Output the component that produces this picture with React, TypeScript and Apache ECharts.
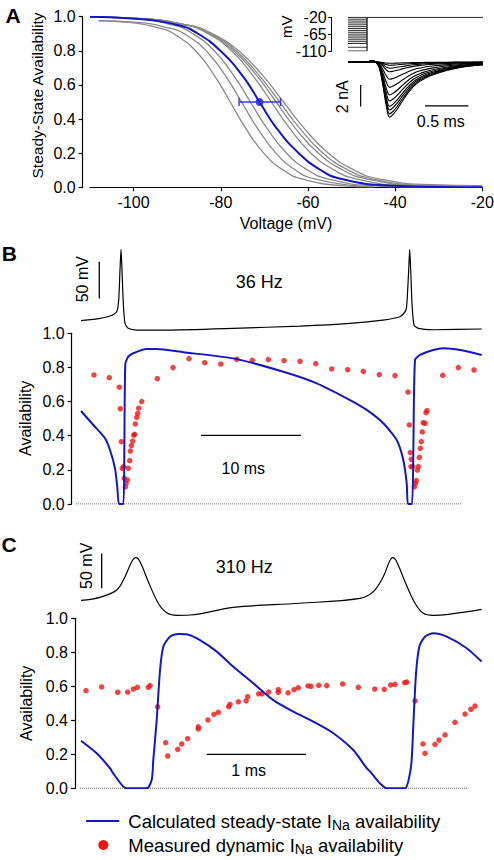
import React, { useEffect, useRef } from "react";
import * as echarts from "echarts";

const FONT = '"Liberation Sans", Arial, Helvetica, sans-serif';
const BLUE = "#1616c4";
const GRAY = "#8a8a8a";
const RED = "#f01414";
const BLACK = "#000000";

// ---------- Panel A: steady-state availability vs voltage ----------
const aXTicks = [-100, -80, -60, -40, -20];
const aMeanFit: number[][] = [[-110, 1.0], [-100.5, 0.99], [-89.7, 0.95], [-85.2, 0.9], [-80.1, 0.8], [-74.9, 0.65], [-71.1, 0.5], [-67.3, 0.35], [-62.1, 0.2], [-57.0, 0.1], [-52.5, 0.05], [-41.7, 0.01], [-30, 0.002], [-20, 0.0]];
const aCell1: number[][] = [[-108, 0.976], [-102.9, 0.97], [-93.8, 0.931], [-89.7, 0.882], [-85.2, 0.784], [-81.0, 0.637], [-77.6, 0.49], [-74.2, 0.343], [-70.0, 0.196], [-65.5, 0.098], [-61.4, 0.049], [-52.3, 0.0098], [-45, 0.002]];
const aCell2: number[][] = [[-108, 0.977], [-100.7, 0.97], [-91.5, 0.931], [-87.3, 0.882], [-82.8, 0.784], [-78.5, 0.637], [-75.0, 0.49], [-71.5, 0.343], [-67.2, 0.196], [-62.7, 0.098], [-58.5, 0.049], [-49.3, 0.0098], [-45, 0.004]];
const aCell3: number[][] = [[-110, 0.997], [-100.8, 0.99], [-90.9, 0.95], [-86.4, 0.9], [-81.5, 0.8], [-76.9, 0.65], [-73.2, 0.5], [-69.5, 0.35], [-64.9, 0.2], [-60.0, 0.1], [-55.5, 0.05], [-45.6, 0.01], [-35, 0.002], [-20, 0.0]];
const aCell4: number[][] = [[-110, 0.998], [-98.7, 0.99], [-87.8, 0.95], [-82.9, 0.9], [-77.5, 0.8], [-72.5, 0.65], [-68.4, 0.5], [-64.3, 0.35], [-59.3, 0.2], [-53.9, 0.1], [-49.0, 0.05], [-38.1, 0.01], [-20, 0.002]];
const aCell5: number[][] = [[-108, 0.997], [-99.5, 0.99], [-87.9, 0.95], [-82.7, 0.9], [-77.0, 0.8], [-71.6, 0.65], [-67.3, 0.5], [-63.0, 0.35], [-57.6, 0.2], [-51.9, 0.1], [-46.7, 0.05], [-35.1, 0.01], [-20, 0.003]];
const aCell6: number[][] = [[-110, 0.997], [-99.6, 0.99], [-87.7, 0.95], [-82.3, 0.9], [-76.5, 0.8], [-71.0, 0.65], [-66.5, 0.5], [-62.0, 0.35], [-56.5, 0.2], [-50.7, 0.1], [-45.3, 0.05], [-33.4, 0.012], [-20, 0.006]];
const aCell7: number[][] = [[-108, 0.996], [-99.6, 0.99], [-87.4, 0.95], [-81.9, 0.9], [-75.9, 0.8], [-70.2, 0.65], [-65.6, 0.5], [-61.0, 0.35], [-55.3, 0.2], [-49.3, 0.1], [-43.8, 0.05], [-31.6, 0.015], [-20, 0.01]];
const aCells = [aCell1, aCell2, aCell3, aCell4, aCell5, aCell6, aCell7];
const aHalfV = -71.1;
const aHalfRange = [-75.8, -66.3];

// Inset: voltage protocol (mV) and currents (nA)
const protocolLevels = [-110, -100, -90, -85, -80, -75, -70, -65, -60, -55, -50, -45, -40, -35, -30, -25];
const protocolTest = -20;
const protocolStep = 0.22;
const protocolEnd = 1.557;
const protocolTicks = [-110, -65, -20];
const currentTimes = [0, 0.22, 0.26, 0.29, 0.32, 0.36, 0.4, 0.44, 0.48, 0.52, 0.57, 0.64, 0.75, 0.85, 0.95, 1.15, 1.33, 1.557];
const currentShape = [0, 0, 0.02, 0.02, 0, -0.1, -0.4, -0.78, -1.0, -0.95, -0.85, -0.68, -0.45, -0.33, -0.25, -0.15, -0.09, -0.05];
const currentPeaks = [5.1, 4.8, 4.45, 4.1, 3.6, 3.05, 2.35, 1.6, 0.9, 0.58, 0.3, 0.12];

// ---------- Panel B: 36 Hz ----------
const bVoltage: number[][] = [[0, -62.3], [1.9, -59.1], [2.9, -55.9], [3.57, -50.1], [3.77, -34.1], [3.9, 6.7], [4.0, 35], [4.1, 6.7], [4.23, -38.6], [4.4, -65.9], [4.73, -72.7], [5.57, -75], [8.57, -75], [15.2, -72.7], [21.9, -69.6], [26.9, -65.9], [30.2, -61.4], [31.9, -56.9], [32.5, -47.8], [32.63, -29.6], [32.77, 6.7], [32.87, 35], [32.97, 6.7], [33.1, -38.6], [33.3, -68.2], [33.73, -72.7], [35.23, -74.6], [40.07, -73.6]];
const bSteady: number[][] = [[0, 0.545], [1.23, 0.463], [2.4, 0.385], [2.9, 0.316], [3.4, 0.209], [3.63, 0.1], [3.8, 0.0], [4.23, 0.0], [4.33, 0.297], [4.43, 0.82], [4.73, 0.863], [5.23, 0.883], [6.57, 0.908], [7.57, 0.908], [10.23, 0.889], [15.23, 0.853], [20.23, 0.775], [23.57, 0.707], [26.9, 0.609], [28.57, 0.551], [30.23, 0.473], [31.57, 0.375], [32.23, 0.258], [32.57, 0.121], [32.7, 0.0], [33.1, 0.0], [33.23, 0.297], [33.4, 0.844], [33.9, 0.873], [35.23, 0.902], [36.23, 0.912], [37.9, 0.902], [40.07, 0.873]];
const bMeasured: number[][] = [[1.3, 0.756], [2.83, 0.74], [3.83, 0.684], [3.93, 0.558], [4.03, 0.365], [4.13, 0.209], [4.27, 0.219], [4.33, 0.15], [4.43, 0.1], [4.5, 0.121], [4.63, 0.141], [4.73, 0.209], [4.87, 0.254], [4.93, 0.31], [5.03, 0.342], [5.17, 0.369], [5.27, 0.404], [5.37, 0.408], [5.43, 0.469], [5.57, 0.508], [5.67, 0.531], [5.77, 0.561], [6.07, 0.6], [7.63, 0.734], [9.2, 0.799], [10.8, 0.851], [12.37, 0.828], [13.97, 0.82], [15.57, 0.848], [17.13, 0.842], [18.73, 0.846], [20.3, 0.84], [21.9, 0.836], [23.47, 0.822], [25.07, 0.791], [26.67, 0.787], [28.23, 0.777], [29.83, 0.758], [31.4, 0.752], [32.7, 0.656], [32.83, 0.463], [32.93, 0.301], [33.03, 0.262], [33.0, 0.219], [33.17, 0.219], [33.33, 0.1], [33.43, 0.121], [33.53, 0.137], [33.63, 0.199], [33.73, 0.219], [33.83, 0.273], [33.93, 0.326], [34.03, 0.365], [34.13, 0.422], [34.23, 0.476], [34.4, 0.473], [34.5, 0.535], [34.6, 0.547], [36.17, 0.754], [37.73, 0.799], [39.3, 0.785]];

// ---------- Panel C: 310 Hz ----------
const cVoltage: number[][] = [[0, -54.2], [0.191, -50], [0.36, -39.9], [0.443, -21.4], [0.511, -0.6], [0.551, 5], [0.594, -0.6], [0.678, -28.3], [0.778, -58.3], [0.863, -71.4], [0.967, -75], [1.098, -74.6], [1.534, -63.9], [2.205, -58.3], [2.81, -51.4], [2.944, -42.2], [3.044, -21.4], [3.105, -0.6], [3.139, 5], [3.179, -0.6], [3.263, -28.3], [3.364, -58.3], [3.447, -72.2], [3.548, -75], [3.699, -73.6], [4.035, -66.7]];
const cSteady: number[][] = [[0, 0.28], [0.158, 0.206], [0.292, 0.118], [0.325, 0.088], [0.426, 0.01], [0.47, 0], [0.662, 0], [0.712, 0.05], [0.728, 0.167], [0.762, 0.4], [0.796, 0.696], [0.829, 0.833], [0.896, 0.892], [0.98, 0.908], [1.064, 0.906], [1.198, 0.872], [1.367, 0.804], [1.534, 0.715], [1.735, 0.618], [1.937, 0.519], [2.138, 0.451], [2.339, 0.392], [2.541, 0.324], [2.742, 0.225], [2.877, 0.118], [2.91, 0.1], [3.011, 0.029], [3.079, 0], [3.263, 0], [3.306, 0.068], [3.33, 0.167], [3.346, 0.362], [3.374, 0.676], [3.407, 0.833], [3.464, 0.892], [3.548, 0.912], [3.683, 0.892], [3.884, 0.824], [4.035, 0.745]];
const cMeasured: number[][] = [[0.05, 0.574], [0.208, 0.596], [0.37, 0.565], [0.47, 0.566], [0.527, 0.584], [0.567, 0.594], [0.678, 0.594], [0.695, 0.604], [0.772, 0.48], [0.853, 0.268], [0.873, 0.19], [0.974, 0.229], [1.014, 0.261], [1.074, 0.292], [1.181, 0.349], [1.181, 0.362], [1.279, 0.402], [1.339, 0.435], [1.383, 0.447], [1.487, 0.48], [1.5, 0.494], [1.584, 0.509], [1.662, 0.514], [1.679, 0.539], [1.789, 0.556], [1.823, 0.556], [1.89, 0.566], [1.987, 0.58], [1.987, 0.565], [2.085, 0.562], [2.145, 0.58], [2.188, 0.592], [2.286, 0.602], [2.316, 0.6], [2.394, 0.606], [2.474, 0.604], [2.635, 0.614], [2.793, 0.594], [2.958, 0.584], [3.054, 0.582], [3.119, 0.608], [3.162, 0.612], [3.26, 0.621], [3.28, 0.625], [3.364, 0.514], [3.444, 0.261], [3.464, 0.206], [3.565, 0.259], [3.605, 0.284], [3.666, 0.314], [3.766, 0.388], [3.867, 0.437], [3.927, 0.465], [3.968, 0.484]];

const legendLine = ["Calculated steady-state I", "Na", " availability"];
const legendDot = ["Measured dynamic I", "Na", " availability"];

function lineSeries(data: number[][], axis: number, color: string, width: number, extra: any = {}) {
  return {
    type: "line",
    xAxisIndex: axis,
    yAxisIndex: axis,
    data,
    symbol: "none",
    showSymbol: false,
    silent: true,
    lineStyle: { color, width },
    ...extra,
  };
}

function hiddenAxis(grid: number, min: number, max: number) {
  return { type: "value", gridIndex: grid, min, max, show: false, splitLine: { show: false } };
}

const axisCommon = {
  axisLine: { show: true, onZero: false, lineStyle: { color: BLACK, width: 1.2 } },
  axisTick: { show: true, length: 4, lineStyle: { color: BLACK, width: 1.2 } },
  splitLine: { show: false },
};

function availabilityAxis(grid: number, offset: number) {
  return {
    type: "value",
    gridIndex: grid,
    min: 0,
    max: 1,
    interval: 0.2,
    offset,
    ...axisCommon,
    axisLabel: { color: BLACK, fontSize: 16, fontFamily: FONT, margin: 7, formatter: (v: number) => v.toFixed(1) },
  };
}

function txt(text: string, x: number, y: number, size: number, opts: any = {}) {
  return {
    type: "text",
    x,
    y,
    rotation: opts.rotate ? Math.PI / 2 : 0,
    silent: true,
    style: {
      text,
      x: 0,
      y: 0,
      fill: BLACK,
      font: `${opts.bold ? "bold " : ""}${size}px ${FONT}`,
      textAlign: opts.align || "center",
      textVerticalAlign: "middle",
    },
  };
}

function buildOption() {
  const series: any[] = [];
  // Panel A
  aCells.forEach((c) => series.push(lineSeries(c, 0, GRAY, 1.3, { smooth: 0.5 })));
  series.push(lineSeries(aMeanFit, 0, BLUE, 2, { smooth: 0.5 }));
  series.push(lineSeries([[aHalfRange[0], 0.5], [aHalfRange[1], 0.5]], 0, "#3a3ae0", 1.4));
  series.push(lineSeries([[aHalfRange[0], 0.476], [aHalfRange[0], 0.524]], 0, "#3a3ae0", 1.4));
  series.push(lineSeries([[aHalfRange[1], 0.476], [aHalfRange[1], 0.524]], 0, "#3a3ae0", 1.4));
  series.push({ type: "scatter", xAxisIndex: 0, yAxisIndex: 0, data: [[aHalfV, 0.5]], symbolSize: 8, silent: true, itemStyle: { color: BLUE } });
  // Inset protocol
  protocolLevels.forEach((v) => series.push(lineSeries([[0, v], [protocolStep, v]], 1, BLACK, 0.8)));
  series.push(lineSeries([[0, protocolTest], [protocolEnd, protocolTest]], 1, BLACK, 1.1));
  series.push(lineSeries([[protocolStep, protocolLevels[0]], [protocolStep, protocolTest]], 1, BLACK, 1.1));
  // Inset currents
  currentPeaks.forEach((p) =>
    series.push(lineSeries(currentTimes.map((t, i) => [t, currentShape[i] * p]), 2, BLACK, 1.1, { smooth: 0.4 }))
  );
  series.push(lineSeries([[0.146, -4.13], [0.146, -2.13]], 2, BLACK, 1.2));
  series.push(lineSeries([[0.888, -4.07], [1.388, -4.07]], 2, BLACK, 1.2));
  // Panel B
  series.push(lineSeries(bVoltage, 3, BLACK, 1.2, { smooth: 0.2 }));
  series.push(lineSeries([[1.83, -32], [1.83, 18]], 3, BLACK, 1.3));
  series.push(lineSeries([[-0.5, 0], [38.07, 0]], 4, "#444", 1, { lineStyle: { color: "#444", width: 1, type: "dotted" } }));
  series.push(lineSeries(bSteady, 4, BLUE, 2, { smooth: 0.2 }));
  series.push(lineSeries([[12, 0.402], [22, 0.402]], 4, BLACK, 1.3));
  series.push({ type: "scatter", xAxisIndex: 4, yAxisIndex: 4, data: bMeasured, symbolSize: 5.5, silent: true, itemStyle: { color: RED } });
  // Panel C
  series.push(lineSeries(cVoltage, 5, BLACK, 1.2, { smooth: 0.35 }));
  series.push(lineSeries([[0.208, -37.5], [0.208, 12.5]], 5, BLACK, 1.3));
  series.push(lineSeries([[-0.0101, 0], [3.9, 0]], 6, "#444", 1, { lineStyle: { color: "#444", width: 1, type: "dotted" } }));
  series.push(lineSeries(cSteady, 6, BLUE, 2, { smooth: 0.25 }));
  series.push(lineSeries([[1.266, 0.2], [2.266, 0.2]], 6, BLACK, 1.3));
  series.push({ type: "scatter", xAxisIndex: 6, yAxisIndex: 6, data: cMeasured, symbolSize: 5.5, silent: true, itemStyle: { color: RED } });

  const rich = {
    a: { fontSize: 18.5, fontFamily: FONT, lineHeight: 22, fill: BLACK, color: BLACK },
    s: { fontSize: 14, fontFamily: FONT, lineHeight: 14, verticalAlign: "bottom", fill: BLACK, color: BLACK },
  };

  const graphic: any[] = [
    txt("A", 13.2, 15, 21, { bold: true }),
    txt("Steady-State Availability", 37, 95.5, 15.5, { rotate: true }),
    txt("Voltage (mV)", 286, 223.5, 16),
    txt("mV", 286, 26.7, 15, { rotate: true }),
    txt("2 nA", 342.5, 96.7, 16, { rotate: true }),
    txt("0.5 ms", 440.8, 121, 16),
    txt("B", 9.4, 253.5, 21, { bold: true }),
    txt("50 mV", 82.7, 279.2, 16, { rotate: true }),
    txt("36 Hz", 259.2, 281.7, 18),
    txt("Availability", 25.8, 418.3, 16, { rotate: true }),
    txt("10 ms", 243.3, 468.3, 16),
    txt("C", 9, 544.5, 21, { bold: true }),
    txt("50 mV", 86.3, 565.8, 16, { rotate: true }),
    txt("310 Hz", 244.3, 566.7, 18),
    txt("Availability", 26.7, 703.3, 16, { rotate: true }),
    txt("1 ms", 248.7, 770.8, 16),
    { type: "line", silent: true, shape: { x1: 86, y1: 821, x2: 119.3, y2: 821 }, style: { stroke: BLUE, lineWidth: 2 } },
    { type: "circle", silent: true, shape: { cx: 103.3, cy: 845, r: 5 }, style: { fill: RED } },
    {
      type: "text", x: 128.3, y: 821, silent: true,
      style: { text: `{a|${legendLine[0]}}{s|${legendLine[1]}}{a|${legendLine[2]}}`, rich, textAlign: "left", textVerticalAlign: "middle", fill: BLACK },
    },
    {
      type: "text", x: 128.3, y: 845, silent: true,
      style: { text: `{a|${legendDot[0]}}{s|${legendDot[1]}}{a|${legendDot[2]}}`, rich, textAlign: "left", textVerticalAlign: "middle", fill: BLACK },
    },
  ];

  return {
    animation: false,
    backgroundColor: "#ffffff",
    textStyle: { fontFamily: FONT },
    grid: [
      { left: 90, top: 16.7, width: 392.3, height: 170.6, containLabel: false, outerBoundsMode: "none" },
      { left: 348, top: 17.3, width: 135, height: 33.7, containLabel: false, outerBoundsMode: "none" },
      { left: 348, top: 56.6, width: 135, height: 64.8, containLabel: false, outerBoundsMode: "none" },
      { left: 76, top: 245.6, width: 406, height: 88.1, containLabel: false, outerBoundsMode: "none" },
      { left: 76, top: 333.3, width: 406, height: 170.7, containLabel: false, outerBoundsMode: "none" },
      { left: 80, top: 554.1, width: 402, height: 64.8, containLabel: false, outerBoundsMode: "none" },
      { left: 80, top: 618.3, width: 402, height: 170, containLabel: false, outerBoundsMode: "none" },
    ],
    xAxis: [
      {
        type: "value", gridIndex: 0, min: -110, max: -20,
        ...axisCommon,
        axisTick: { ...axisCommon.axisTick, customValues: aXTicks },
        axisLabel: { color: BLACK, fontSize: 16, fontFamily: FONT, margin: 7, customValues: aXTicks },
      },
      hiddenAxis(1, 0, protocolEnd),
      hiddenAxis(2, 0, protocolEnd),
      hiddenAxis(3, -0.5, 40.1),
      hiddenAxis(4, -0.5, 40.1),
      hiddenAxis(5, -0.0101, 4.0383),
      hiddenAxis(6, -0.0101, 4.0383),
    ],
    yAxis: [
      availabilityAxis(0, 7.3),
      {
        type: "value", gridIndex: 1, min: -110, max: -20, offset: 16.3,
        ...axisCommon,
        axisLine: { show: true, onZero: false, lineStyle: { color: BLACK, width: 1 } },
        axisTick: { show: true, length: 3.5, lineStyle: { color: BLACK, width: 1 }, customValues: protocolTicks },
        axisLabel: { color: BLACK, fontSize: 16, fontFamily: FONT, margin: 5, customValues: protocolTicks },
      },
      hiddenAxis(2, -5.5, 0.5),
      hiddenAxis(3, -80, 40),
      availabilityAxis(4, 4.3),
      hiddenAxis(5, -80, 10),
      availabilityAxis(6, 5),
    ],
    series,
    graphic,
  };
}

export default function App() {
  const ref = useRef<HTMLDivElement>(null);
  useEffect(() => {
    if (!ref.current) return;
    const chart = echarts.init(ref.current, undefined, { renderer: "svg" });
    chart.setOption(buildOption() as any);
    return () => chart.dispose();
  }, []);
  return (
    <div
      ref={ref}
      style={{ position: "fixed", left: 0, top: 0, width: 494, height: 860, background: "#fff" }}
    />
  );
}
